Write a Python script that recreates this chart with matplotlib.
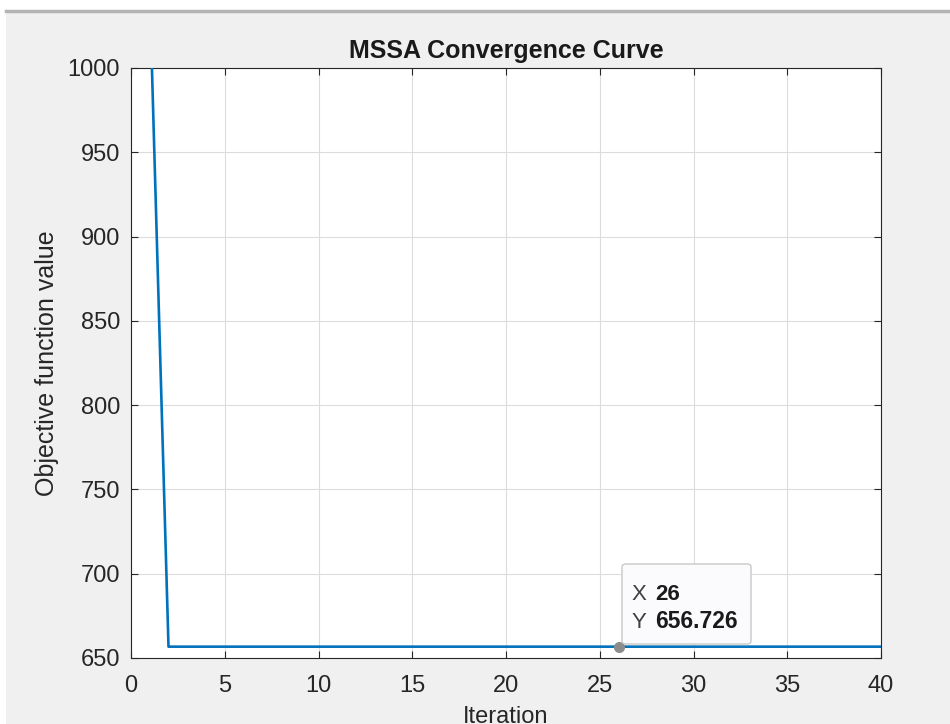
import matplotlib
matplotlib.use("Agg")
import matplotlib.pyplot as plt
from matplotlib.patches import FancyBboxPatch
import matplotlib.lines as mlines

iterations = list(range(1, 41))
fitness = [1045.0, 656.726, 656.726, 656.726, 656.726, 656.726, 656.726, 656.726,
           656.726, 656.726, 656.726, 656.726, 656.726, 656.726, 656.726, 656.726,
           656.726, 656.726, 656.726, 656.726, 656.726, 656.726, 656.726, 656.726,
           656.726, 656.726, 656.726, 656.726, 656.726, 656.726, 656.726, 656.726,
           656.726, 656.726, 656.726, 656.726, 656.726, 656.726, 656.726, 656.726]
tip_x = 26
tip_y = 656.726
x_ticks = [0, 5, 10, 15, 20, 25, 30, 35, 40]
y_ticks = [650, 700, 750, 800, 850, 900, 950, 1000]

plt.rcParams['font.family'] = ['Liberation Sans', 'DejaVu Sans']

W, H = 950, 724
fig = plt.figure(figsize=(W / 100, H / 100), dpi=100)
fig.patch.set_facecolor('white')
fig.patches.append(plt.Rectangle((6 / W, 0), 1 - 6 / W, 1 - 12 / H, transform=fig.transFigure,
                                 facecolor='#f0f0f0', edgecolor='none', zorder=-10))
fig.lines.append(mlines.Line2D([6 / W, 1], [1 - 11 / H, 1 - 11 / H], transform=fig.transFigure,
                               color='#b4b4b4', lw=2.5))

L, R, T, B = 131, 881, 68, 658
ax = fig.add_axes([L / W, 1 - B / H, (R - L) / W, (B - T) / H])
ax.set_facecolor('white')
ax.plot(iterations, fitness, color='#0072BD', lw=1.9, zorder=3)
ax.set_xlim(0, 40)
ax.set_ylim(650, 1000)
ax.set_xticks(x_ticks)
ax.set_yticks(y_ticks)
ax.grid(True, color='#dcdcdc', lw=0.8)
ax.set_axisbelow(True)
ax.tick_params(direction='in', top=True, right=True, length=5, width=0.8,
               labelsize=17, colors='#262626')
ax.tick_params(axis='x', pad=12.5)
ax.tick_params(axis='y', pad=8)
for s in ax.spines.values():
    s.set_color('#262626')
    s.set_linewidth(0.8)
ax.set_title('MSSA Convergence Curve', fontsize=18, fontweight='bold', color='#1a1a1a', pad=7)
ax.set_xlabel('Iteration', fontsize=17, color='#262626', labelpad=6)
ax.set_ylabel('Objective function value', fontsize=18, color='#262626', labelpad=6)

# data tip
ax.plot([tip_x], [tip_y], 'o', ms=7, color='#8c8c8c', mec='#8c8c8c', zorder=5)
bx0, by0 = 622 / W, 1 - 644 / H
bw, bh = 129 / W, 80 / H
box = FancyBboxPatch((bx0, by0), bw, bh, boxstyle='round,pad=0,rounding_size=0.004',
                     transform=fig.transFigure, facecolor='#fbfbfd', edgecolor='#c8c8c8',
                     lw=1.0, zorder=10)
fig.patches.append(box)
fig.text(632 / W, 1 - 600 / H, 'X', fontsize=16, color='#404040', va='baseline', zorder=11)
fig.text(655 / W, 1 - 600 / H, f'{tip_x}', fontsize=16, fontweight='bold', color='#1a1a1a',
         va='baseline', zorder=11)
fig.text(632 / W, 1 - 628 / H, 'Y', fontsize=16, color='#404040', va='baseline', zorder=11)
fig.text(655 / W, 1 - 628 / H, f'{tip_y:.3f}', fontsize=16.5, fontweight='bold', color='#1a1a1a',
         va='baseline', zorder=11)

fig.savefig('out.png', dpi=100, facecolor=fig.get_facecolor())
